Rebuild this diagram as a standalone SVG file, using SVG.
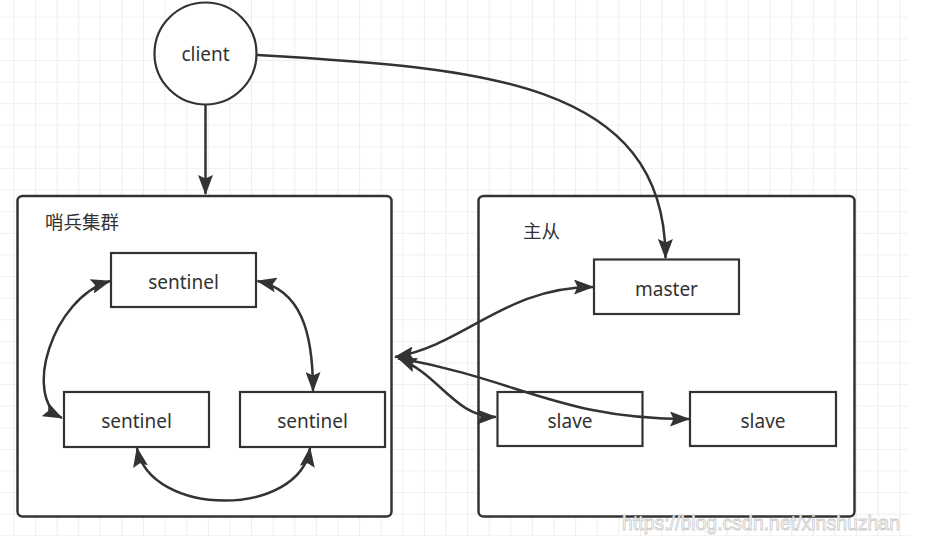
<svg xmlns="http://www.w3.org/2000/svg" width="941" height="536" viewBox="0 0 941 536">
<defs>
<pattern id="grid" x="13.3" y="16.7" width="21.61" height="21.61" patternUnits="userSpaceOnUse">
<path d="M0,0 H21.61 M0,0 V21.61" fill="none" stroke="#ebebeb" stroke-width="1.6"/>
</pattern>
<marker id="ah" viewBox="0 0 20 15" refX="19" refY="7.5" markerWidth="20" markerHeight="15" markerUnits="userSpaceOnUse" orient="auto-start-reverse">
<path d="M0,0 L20,7.5 L0,15 L3.5,7.5 z" fill="#333"/>
</marker>
<style>
.box{fill:#fff;stroke:#333;stroke-width:2.5}
.node{fill:#fff;stroke:#333;stroke-width:2.2}
.lbl{font-family:"Noto Sans","Open Sans","Liberation Sans",sans-serif;font-size:19px;fill:#333;text-anchor:middle}
.ttl{font-family:"Noto Sans CJK SC","Noto Sans",sans-serif;font-size:18.5px;fill:#333}
.conn{fill:none;stroke:#333;stroke-width:2.5}
</style>
</defs>
<rect x="0" y="0" width="941" height="536" fill="#fff"/>
<rect x="0" y="0" width="909" height="536" fill="url(#grid)"/>

<g id="sentinel-cluster">
<rect class="box" x="17.5" y="196" width="374" height="320.5" rx="5"/>
<text class="ttl" x="45" y="229">哨兵集群</text>
</g>
<g id="master-slave">
<rect class="box" x="478.5" y="196" width="376" height="320.5" rx="5"/>
<text class="ttl" x="523" y="238">主从</text>
</g>
<g id="client">
<circle class="node" cx="205.5" cy="53.5" r="51"/>
<text class="lbl" x="205.5" y="61">client</text>
</g>
<g id="sentinel-top">
<rect class="node" x="111" y="253" width="145" height="54"/>
<text class="lbl" x="183.5" y="289">sentinel</text>
</g>
<g id="sentinel-left">
<rect class="node" x="64" y="392" width="145" height="55"/>
<text class="lbl" x="136.5" y="428">sentinel</text>
</g>
<g id="sentinel-right">
<rect class="node" x="240" y="392" width="145" height="55"/>
<text class="lbl" x="312.5" y="428">sentinel</text>
</g>
<g id="master">
<rect class="node" x="594" y="259.5" width="145" height="54.5"/>
<text class="lbl" x="666.5" y="296">master</text>
</g>
<g id="slave-1">
<rect class="node" x="497.5" y="392" width="145" height="54"/>
<text class="lbl" x="570" y="428">slave</text>
</g>
<g id="slave-2">
<rect class="node" x="690" y="392" width="146" height="54"/>
<text class="lbl" x="763" y="428">slave</text>
</g>

<g id="connectors">
<path class="conn" d="M205.5,104.5 V194" marker-end="url(#ah)"/>
<path class="conn" d="M257,55 C480,68 665,80 665.5,258" marker-end="url(#ah)"/>
<path class="conn" d="M110,281 C52,298 22,398 62,418" marker-start="url(#ah)" marker-end="url(#ah)"/>
<path class="conn" d="M257.5,281 C300,290 313,330 313,391" marker-start="url(#ah)" marker-end="url(#ah)"/>
<path class="conn" d="M137,448 C150,518 300,518 310,448" marker-start="url(#ah)" marker-end="url(#ah)"/>
<path class="conn" d="M395,357 C465,345 505,287 593,287" marker-start="url(#ah)" marker-end="url(#ah)"/>
<path class="conn" d="M398,358 C440,375 455,417 496,417" marker-start="url(#ah)" marker-end="url(#ah)"/>
<path class="conn" d="M398,358 C520,380 560,419 689,419" marker-end="url(#ah)"/>
</g>

<text x="622" y="530" font-family="Liberation Sans, Arial, sans-serif" font-size="21" fill="#fff" stroke="#c8c8c8" stroke-width="0.8" textLength="278" lengthAdjust="spacingAndGlyphs">https://blog.csdn.net/xinshuzhan</text>
</svg>
